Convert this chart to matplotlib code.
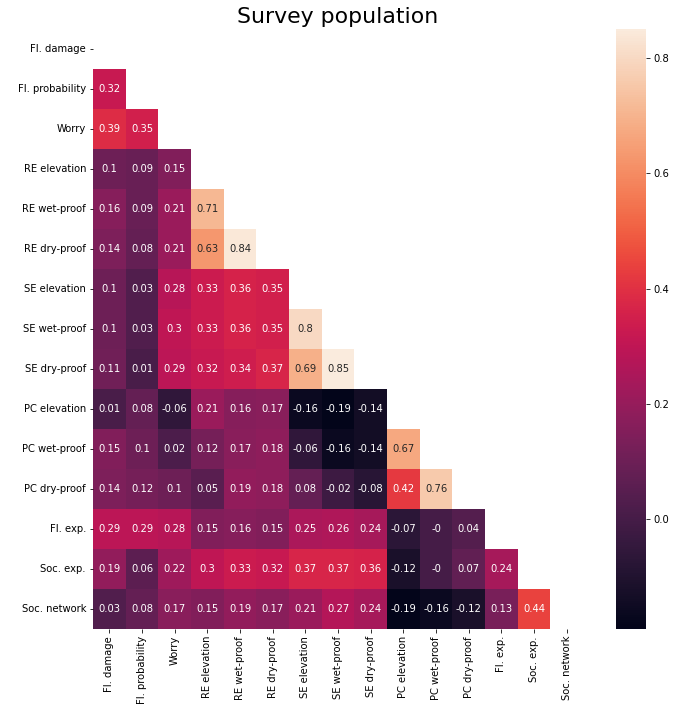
import numpy as np
import matplotlib
matplotlib.use("Agg")
import matplotlib.pyplot as plt
import seaborn as sns

labels = ["Fl. damage", "Fl. probability", "Worry", "RE elevation", "RE wet-proof",
          "RE dry-proof", "SE elevation", "SE wet-proof", "SE dry-proof",
          "PC elevation", "PC wet-proof", "PC dry-proof", "Fl. exp.", "Soc. exp.",
          "Soc. network"]

# Lower-triangle correlations, row by row
row_fl_probability = [0.32]
row_worry = [0.39, 0.35]
row_re_elevation = [0.1, 0.09, 0.15]
row_re_wet = [0.16, 0.09, 0.21, 0.71]
row_re_dry = [0.14, 0.08, 0.21, 0.63, 0.84]
row_se_elevation = [0.1, 0.03, 0.28, 0.33, 0.36, 0.35]
row_se_wet = [0.1, 0.03, 0.3, 0.33, 0.36, 0.35, 0.8]
row_se_dry = [0.11, 0.01, 0.29, 0.32, 0.34, 0.37, 0.69, 0.85]
row_pc_elevation = [0.01, 0.08, -0.06, 0.21, 0.16, 0.17, -0.16, -0.19, -0.14]
row_pc_wet = [0.15, 0.1, 0.02, 0.12, 0.17, 0.18, -0.06, -0.16, -0.14, 0.67]
row_pc_dry = [0.14, 0.12, 0.1, 0.05, 0.19, 0.18, 0.08, -0.02, -0.08, 0.42, 0.76]
row_fl_exp = [0.29, 0.29, 0.28, 0.15, 0.16, 0.15, 0.25, 0.26, 0.24, -0.07, -0.0, 0.04]
row_soc_exp = [0.19, 0.06, 0.22, 0.3, 0.33, 0.32, 0.37, 0.37, 0.36, -0.12, -0.0, 0.07, 0.24]
row_soc_network = [0.03, 0.08, 0.17, 0.15, 0.19, 0.17, 0.21, 0.27, 0.24, -0.19, -0.16,
                   -0.12, 0.13, 0.44]

lower_rows = [[], row_fl_probability, row_worry, row_re_elevation, row_re_wet,
              row_re_dry, row_se_elevation, row_se_wet, row_se_dry, row_pc_elevation,
              row_pc_wet, row_pc_dry, row_fl_exp, row_soc_exp, row_soc_network]

n = len(labels)
corr = np.eye(n)
for i, row in enumerate(lower_rows):
    for j, v in enumerate(row):
        corr[i, j] = v
        corr[j, i] = v

mask = np.triu(np.ones_like(corr, dtype=bool))

fig = plt.figure(figsize=(673 / 72, 714 / 72), dpi=72)
ax = fig.add_axes([93 / 673, 85 / 714, 490 / 673, 600 / 714])
cax = fig.add_axes([616 / 673, 85 / 714, 30 / 673, 600 / 714])

sns.heatmap(corr, mask=mask, annot=True, fmt=".2g", cmap="rocket",
            xticklabels=labels, yticklabels=labels, ax=ax, cbar_ax=cax,
            annot_kws={"fontsize": 10})

ax.set_title("Survey population", fontsize=22, pad=6)
ax.tick_params(axis="both", labelsize=10)
plt.setp(ax.get_xticklabels(), rotation=90)
plt.setp(ax.get_yticklabels(), rotation=0)
cax.tick_params(labelsize=10)

fig.savefig("out.png", dpi=72)
